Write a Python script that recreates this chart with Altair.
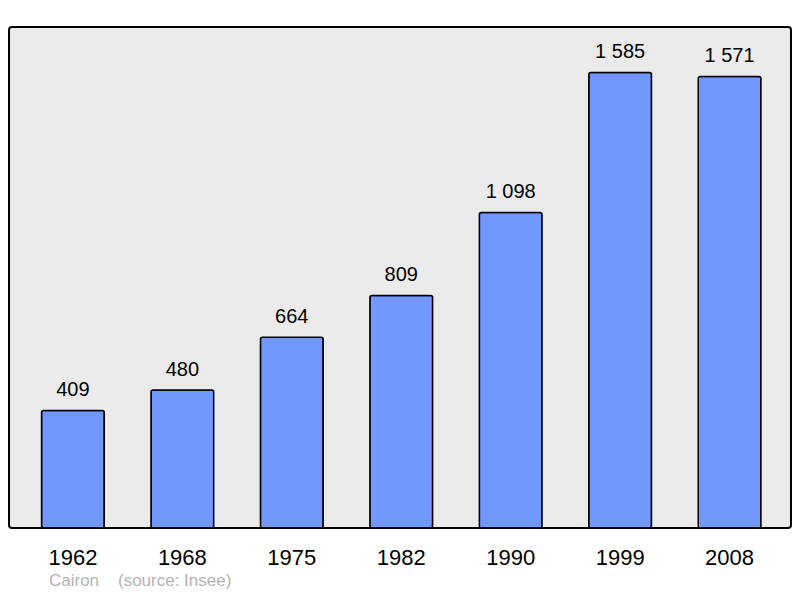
import altair as alt
import pandas as pd

years = ["1962", "1968", "1975", "1982", "1990", "1999", "2008"]
population = [409, 480, 664, 809, 1098, 1585, 1571]

df = pd.DataFrame({"year": years, "pop": population})

FONT = "Liberation Sans"

x = alt.X("year:N", sort=years, title=None,
          scale=alt.Scale(paddingInner=0.427, paddingOuter=0.286, align=0.52),
          axis=alt.Axis(labelAngle=0, labelFontSize=22, labelColor="black",
                        labelFont=FONT, ticks=False, domain=False, labelPadding=19))
y = alt.Y("pop:Q", title=None, axis=None,
          scale=alt.Scale(domain=[0, 1743.5], nice=False, zero=True))

bars = alt.Chart(df).mark_bar(
    color="#7098ff", stroke="black", strokeWidth=1.5, cornerRadius=2
).encode(x=x, y=y)

labels = alt.Chart(df).transform_calculate(
    label="replace(format(datum.pop, ','), ',', ' ')"
).mark_text(
    baseline="alphabetic", dy=-14.5, fontSize=20, font=FONT, color="black"
).encode(x=x, y=y, text="label:N")

chart = alt.layer(bars, labels).properties(
    width=782, height=501,
    padding={"left": 1, "top": 19, "right": 1, "bottom": 62},
    autosize=alt.AutoSizeParams(type="none"),
    title=alt.TitleParams(
        text="Cairon\u00a0\u00a0\u00a0\u00a0(source: Insee)",
        orient="bottom", anchor="start", fontSize=17, font=FONT,
        fontWeight="normal", color="#b3b3b3", dx=40, offset=5,
    ),
).configure_view(
    fill="#ebebeb", stroke="black", strokeWidth=2, cornerRadius=3
)

chart.save("out.html", embed_options={"renderer": "svg", "actions": False})
